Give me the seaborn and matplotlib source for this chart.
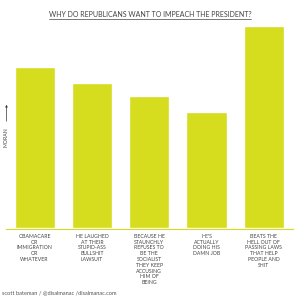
import matplotlib
matplotlib.use("Agg")
import matplotlib.pyplot as plt
import seaborn as sns
import pandas as pd

categories = [
    "OBAMACARE\nOR\nIMMIGRATION\nOR\nWHATEVER",
    "HE LAUGHED\nAT THEIR\nSTUPID-ASS\nBULLSHIT\nLAWSUIT",
    "BECAUSE HE\nSTAUNCHLY\nREFUSES TO\nBE THE\nSOCIALIST\nTHEY KEEP\nACCUSING\nHIM OF\nBEING",
    "HE'S\nACTUALLY\nDOING HIS\nDAMN JOB",
    "BEATS THE\nHELL OUT OF\nPASSING LAWS\nTHAT HELP\nPEOPLE AND\nSHIT",
]
values = [161, 145, 132, 116, 202]
title = "WHY DO REPUBLICANS WANT TO IMPEACH THE PRESIDENT?"
ylabel = "MORAN"
footer = "scott bateman / @disalmanac /disalmanac.com"

sns.set_style("white")
plt.rcParams["font.family"] = ["Lato", "DejaVu Sans"]

df = pd.DataFrame({"cat": categories, "val": values})

fig = plt.figure(figsize=(3, 3), dpi=100)
ax = fig.add_axes([0.02, 1 - 229 / 300, 0.955, 211.5 / 300])
sns.barplot(data=df, x="cat", y="val", color="#d6dc1e", saturation=1,
            width=0.7, ax=ax, order=categories)
ax.set_xlim(-0.5, 4.5)
ax.set_ylim(-1.5, 210)
ax.set_xlabel("")
ax.set_ylabel("")
ax.set_yticks([])
ax.set_xticks(range(5))
ax.set_xticklabels(categories, fontsize=3.7, color="#444444",
                   linespacing=1.2, multialignment="center")
ax.tick_params(axis="x", length=0, pad=3.5)
for s in ["top", "right", "left"]:
    ax.spines[s].set_visible(False)
ax.spines["bottom"].set_color("#d6dc1e")
ax.spines["bottom"].set_linewidth(0.8)

fig.text(0.5, 1 - 17 / 300, title, ha="center", va="baseline",
         fontsize=5.0, color="#444444")
# underline
fig.add_artist(plt.Line2D([49 / 300, 251 / 300], [1 - 18.5 / 300, 1 - 18.5 / 300],
                          color="#444444", lw=0.5, transform=fig.transFigure))

fig.text(6.5 / 300, 1 - 137 / 300, ylabel, rotation=90, ha="center", va="center",
         fontsize=3.7, color="#444444")
ax.annotate("", xy=(6.5 / 300, 1 - 102 / 300), xytext=(6.5 / 300, 1 - 124 / 300),
            xycoords="figure fraction", textcoords="figure fraction",
            arrowprops=dict(arrowstyle="-|>", lw=0.5, color="#333333",
                            mutation_scale=3))

fig.text(2 / 300, 1 - 293 / 300, footer, ha="left", va="center",
         fontsize=4.1, color="#555555")

fig.savefig("out.png", dpi=100)
